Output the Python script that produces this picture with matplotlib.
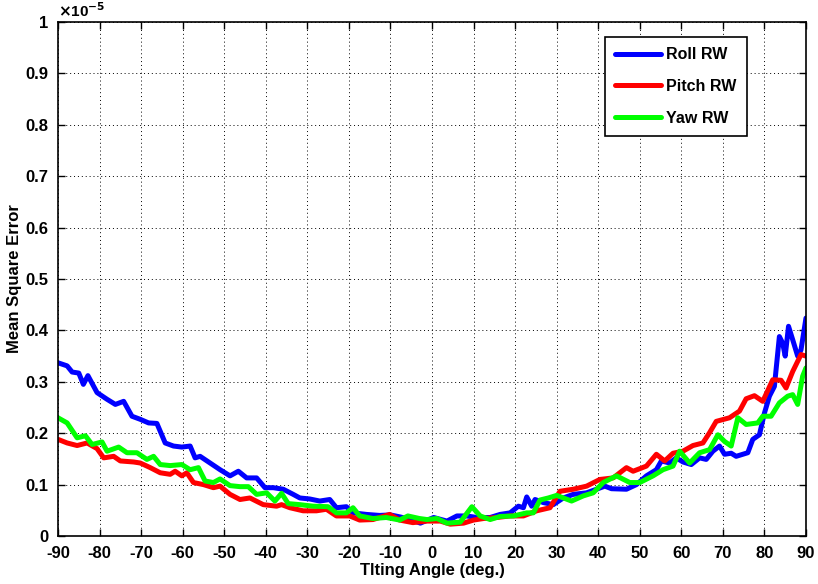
import matplotlib
matplotlib.use("Agg")
import matplotlib.pyplot as plt
from matplotlib.ticker import FuncFormatter

plt.rcParams['font.family'] = ['Liberation Sans', 'DejaVu Sans']
plt.rcParams['font.weight'] = 'bold'
plt.rcParams['axes.unicode_minus'] = False

# Values in units of 1e-5
roll_angle = [-90, -87.8, -86.6, -85, -83.9, -82.8, -80.6, -78.2, -76.2, -74.2, -72.2, -70.2, -68.2, -66.2,
              -64.2, -62.2, -60.2, -58.2, -57, -55.8, -53.4, -51, -48.6, -46.6, -44.6, -42.2, -40.2, -38.2,
              -35.8, -33.4, -31.8, -29.4, -27, -24.6, -23, -20.6, -19, -15.8, -12.6, -10, -7.6, -5.2, -2.8,
              0.4, 3.6, 6, 8.4, 10.8, 14, 16.4, 18.8, 20.8, 22, 22.8, 24, 24.8, 26.8, 29.2, 31.6, 34, 37.2,
              39.6, 41.6, 43.2, 46.8, 49.2, 51.6, 54, 55.2, 57.2, 58.8, 60.4, 62.4, 64.4, 66, 67.6, 69.2,
              70.4, 72, 73.2, 76, 77.2, 78.8, 80, 81.2, 82.4, 83.6, 84.4, 85, 85.8, 86.8, 88, 88.8, 90]
roll_mse = [0.337, 0.331, 0.319, 0.317, 0.295, 0.312, 0.279, 0.266, 0.256, 0.262, 0.233, 0.227, 0.220, 0.219,
            0.181, 0.175, 0.173, 0.175, 0.152, 0.155, 0.142, 0.129, 0.117, 0.126, 0.113, 0.113, 0.094, 0.094,
            0.091, 0.081, 0.074, 0.072, 0.068, 0.071, 0.055, 0.057, 0.045, 0.042, 0.040, 0.041, 0.037, 0.032, 0.025,
            0.036, 0.029, 0.039, 0.039, 0.036, 0.036, 0.042, 0.045, 0.058, 0.055, 0.076, 0.058, 0.071, 0.065, 0.061,
            0.074, 0.081, 0.084, 0.091, 0.097, 0.092, 0.091, 0.100, 0.117, 0.129, 0.146, 0.142, 0.152, 0.144, 0.139,
            0.152, 0.149, 0.165, 0.175, 0.159, 0.161, 0.155, 0.162, 0.188, 0.197, 0.239, 0.272, 0.291, 0.388, 0.375,
            0.350, 0.408, 0.382, 0.350, 0.362, 0.424]

pitch_angle = [-90, -87.8, -85.4, -83, -80.6, -79, -76.6, -75, -71.8, -70.2, -67.8, -65.4, -63, -61.8, -60.2,
               -59, -57.4, -55, -52.6, -51, -48.6, -46.2, -43.8, -40.6, -37.4, -36.2, -34.2, -31, -27.8, -25.4,
               -23, -19.8, -17.4, -14.2, -10.2, -7.8, -4.6, -1.2, 2, 4.4, 7.6, 10, 12.4, 15.6, 18.8, 22, 25.2,
               28.4, 30.8, 34, 37.2, 40.4, 43.6, 46.8, 48.4, 51.6, 54, 56, 58, 60.4, 62.8, 65.2, 66.8, 68.4, 71.6,
               74, 75.6, 77.6, 79.6, 82, 84, 85.2, 86.8, 88.8, 90]
pitch_mse = [0.188, 0.181, 0.176, 0.181, 0.170, 0.152, 0.155, 0.146, 0.144, 0.142, 0.133, 0.123, 0.120, 0.126, 0.117,
             0.123, 0.104, 0.100, 0.094, 0.097, 0.081, 0.071, 0.074, 0.061, 0.058, 0.061, 0.055, 0.049, 0.049, 0.052,
             0.039, 0.039, 0.031, 0.032, 0.042, 0.031, 0.026, 0.029, 0.029, 0.023, 0.025, 0.031, 0.034, 0.036, 0.039,
             0.039, 0.049, 0.055, 0.087, 0.091, 0.097, 0.110, 0.113, 0.133, 0.126, 0.136, 0.159, 0.146, 0.161, 0.165,
             0.176, 0.181, 0.201, 0.223, 0.230, 0.243, 0.267, 0.273, 0.262, 0.304, 0.303, 0.288, 0.320, 0.353, 0.350]

yaw_angle = [-90, -87.8, -85.4, -83.4, -81.8, -79.4, -78.2, -75.4, -73.4, -71, -68.6, -67, -65.4, -63, -60.2,
             -58.2, -56.2, -54.6, -52.6, -51, -48.6, -46.2, -44.2, -42.2, -39.8, -37.8, -36.2, -34.6, -31.8, -28.6,
             -25, -23, -20.6, -19, -17.4, -14.2, -11, -7.8, -5.8, -3, -1.2, 1.2, 3.6, 6.8, 9.6, 11.6, 14, 16.4,
             19.6, 22.8, 24.4, 26, 28, 30, 33.6, 36.4, 38.8, 41.2, 44.4, 47.6, 50, 53.2, 55.6, 58, 59.6, 62, 64.4,
             66.8, 68.8, 70.4, 72, 73.6, 75.6, 78.4, 79.6, 81.6, 83.6, 85.6, 86.8, 88, 89.2, 90]
yaw_mse = [0.230, 0.220, 0.191, 0.195, 0.178, 0.183, 0.165, 0.173, 0.162, 0.162, 0.149, 0.155, 0.139, 0.137, 0.139,
           0.129, 0.133, 0.107, 0.104, 0.111, 0.098, 0.096, 0.096, 0.081, 0.084, 0.068, 0.083, 0.063, 0.061, 0.058,
           0.057, 0.045, 0.045, 0.055, 0.039, 0.034, 0.036, 0.031, 0.039, 0.034, 0.032, 0.034, 0.025, 0.027, 0.057,
           0.039, 0.032, 0.038, 0.039, 0.045, 0.045, 0.070, 0.074, 0.079, 0.068, 0.078, 0.084, 0.104, 0.117, 0.104,
           0.104, 0.117, 0.129, 0.136, 0.165, 0.142, 0.162, 0.168, 0.197, 0.184, 0.175, 0.230, 0.217, 0.220, 0.233,
           0.233, 0.259, 0.272, 0.275, 0.256, 0.311, 0.327]

series_labels = ['Roll RW', 'Pitch RW', 'Yaw RW']
x_ticks = list(range(-90, 91, 10))
y_ticks = [0, 0.1, 0.2, 0.3, 0.4, 0.5, 0.6, 0.7, 0.8, 0.9, 1]

fig = plt.figure(figsize=(8.18, 5.84), dpi=100)
ax = fig.add_axes([0.0709, 0.0822, 0.9144, 0.8801])

lw = 3.6
ax.plot(roll_angle, roll_mse, color=(0, 0, 1), lw=lw, label=series_labels[0],
        solid_joinstyle='round', solid_capstyle='round')
ax.plot(pitch_angle, pitch_mse, color=(1, 0, 0), lw=lw, label=series_labels[1],
        solid_joinstyle='round', solid_capstyle='round')
ax.plot(yaw_angle, yaw_mse, color=(0, 1, 0), lw=lw, label=series_labels[2],
        solid_joinstyle='round', solid_capstyle='round')

ax.set_xlim(-90, 90)
ax.set_ylim(0, 1)
ax.set_xticks(x_ticks)
ax.set_yticks(y_ticks)
ax.yaxis.set_major_formatter(FuncFormatter(lambda v, p: ('%g' % round(v, 3))))
ax.tick_params(direction='in', length=5, width=1.0, top=True, right=True, labelsize=12, pad=7)
for lab in ax.get_xticklabels() + ax.get_yticklabels():
    lab.set_fontweight('bold')
ax.grid(True, linestyle=(0, (1, 3)), color='black', linewidth=0.7)
for s in ax.spines.values():
    s.set_linewidth(1.2)

ax.set_xlabel('Tlting Angle (deg.)', fontsize=12, fontweight='bold', labelpad=2)
ax.set_ylabel('Mean Square Error', fontsize=12, fontweight='bold', labelpad=2)
ax.text(0.0, 1.004, r'$\times$10$^{-5}$', transform=ax.transAxes, fontsize=11,
        ha='left', va='bottom')

leg = ax.legend(loc='upper right', bbox_to_anchor=(0.921, 0.971), fontsize=11.5, frameon=True,
                fancybox=False, edgecolor='black', framealpha=1, handlelength=2.9,
                labelspacing=1.05, borderpad=0.65, handletextpad=0.3, borderaxespad=0)
leg.get_frame().set_linewidth(1.2)
for t in leg.get_texts():
    t.set_fontweight('bold')

fig.savefig('out.png', dpi=100)
